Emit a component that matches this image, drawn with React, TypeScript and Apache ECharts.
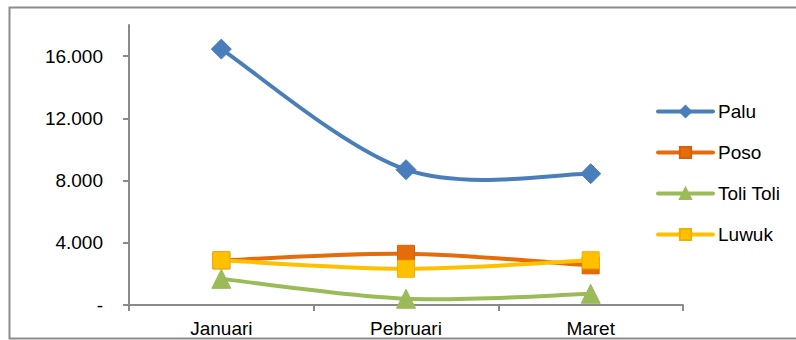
import React, { useEffect, useRef } from "react";
import * as echarts from "echarts";

const months = ["Januari", "Pebruari", "Maret"];
const palu = [16450, 8700, 8440];
const poso = [2870, 3290, 2550];
const toliToli = [1680, 400, 720];
const luwuk = [2870, 2330, 2880];
const yTicks = [0, 4000, 8000, 12000, 16000];

const FONT = "Liberation Sans";

function fmt(v: number): string {
  if (v === 0) return "-";
  return v.toLocaleString("de-DE");
}

type SeriesDef = {
  name: string;
  data: number[];
  color: string;
  border: string;
  symbol: string;
  size: number;
};

const defs: SeriesDef[] = [
  { name: "Palu", data: palu, color: "#4a7ebb", border: "#4a7ebb", symbol: "diamond", size: 20 },
  { name: "Poso", data: poso, color: "#e46c0a", border: "#d9600a", symbol: "rect", size: 17 },
  { name: "Toli Toli", data: toliToli, color: "#9bbb59", border: "#9bbb59", symbol: "triangle", size: 19 },
  { name: "Luwuk", data: luwuk, color: "#ffc000", border: "#f0b000", symbol: "rect", size: 17 },
];

// Smoothed segment between point i and i+1 (Catmull-Rom style Bezier, end points repeated)
function curveSeries(d: SeriesDef, order: number) {
  const values = d.data;
  return {
    name: d.name + "\u200b",
    type: "custom",
    z: 2 + order * 2,
    silent: true,
    data: values.map((v, i) => [i, v]),
    encode: { x: 0, y: 1 },
    renderItem: (params: any, api: any) => {
      const i = params.dataIndex;
      const n = values.length;
      if (i >= n - 1) return null;
      const pt = (k: number) => {
        const kk = Math.max(0, Math.min(n - 1, k));
        return api.coord([kk, values[kk]]);
      };
      const p0 = pt(i - 1);
      const p1 = pt(i);
      const p2 = pt(i + 1);
      const p3 = pt(i + 2);
      return {
        type: "bezierCurve",
        shape: {
          x1: p1[0],
          y1: p1[1],
          x2: p2[0],
          y2: p2[1],
          cpx1: p1[0] + (p2[0] - p0[0]) / 6,
          cpy1: p1[1] + (p2[1] - p0[1]) / 6,
          cpx2: p2[0] - (p3[0] - p1[0]) / 6,
          cpy2: p2[1] - (p3[1] - p1[1]) / 6,
        },
        style: { stroke: d.color, lineWidth: 4, fill: "none", lineCap: "round" },
      };
    },
  };
}

function markerSeries(d: SeriesDef, order: number) {
  return {
    name: d.name,
    type: "line",
    z: 3 + order * 2,
    data: d.data,
    symbol: d.symbol,
    symbolSize: d.size,
    showAllSymbol: true,
    clip: false,
    lineStyle: { color: d.color, width: 0 },
    itemStyle: { color: d.color, borderColor: d.border, borderWidth: 1, opacity: 1 },
    emphasis: { disabled: true },
  };
}

export default function App() {
  const ref = useRef<HTMLDivElement>(null);

  useEffect(() => {
    if (!ref.current) return;
    const chart = echarts.init(ref.current, undefined, { renderer: "svg" });

    chart.setOption({
      animation: false,
      textStyle: { fontFamily: FONT },
      grid: {
        left: 129,
        right: 113,
        top: 25,
        bottom: 35,
        containLabel: false,
        outerBoundsMode: "none",
      },
      legend: {
        orient: "vertical",
        left: 651,
        top: 97,
        itemWidth: 55,
        itemHeight: 14,
        itemGap: 22,
        lineStyle: { width: 4, opacity: 1, cap: "round" },
        textStyle: { fontFamily: FONT, fontSize: 19, color: "#000" },
        data: defs.map((d) => d.name),
      },
      xAxis: {
        type: "category",
        data: months,
        boundaryGap: true,
        axisLine: { lineStyle: { color: "#8a8a8a", width: 2 } },
        axisTick: { show: true, length: 6, lineStyle: { color: "#8a8a8a", width: 2 } },
        axisLabel: { fontFamily: FONT, fontSize: 19, color: "#000", margin: 14 },
      },
      yAxis: {
        type: "value",
        min: 0,
        max: 18000,
        splitLine: { show: false },
        axisLine: { show: true, lineStyle: { color: "#8a8a8a", width: 2 } },
        axisTick: {
          show: true,
          length: 6,
          customValues: yTicks,
          lineStyle: { color: "#8a8a8a", width: 2 },
        },
        axisLabel: {
          fontFamily: FONT,
          fontSize: 19,
          color: "#000",
          margin: 26,
          customValues: yTicks,
          formatter: (v: number) => fmt(v),
        },
      },
      graphic: [
        {
          type: "rect",
          z: 100,
          shape: { x: 9.5, y: 7.5, width: 800, height: 331 },
          style: { fill: "none", stroke: "#8c8c8c", lineWidth: 2 },
          silent: true,
        },
      ],
      series: [
        ...defs.map((d, i) => markerSeries(d, i)),
        ...defs.map((d, i) => curveSeries(d, i)),
      ],
    });

    return () => chart.dispose();
  }, []);

  return <div ref={ref} style={{ width: 796, height: 340, position: "absolute", left: 0, top: 0 }} />;
}
